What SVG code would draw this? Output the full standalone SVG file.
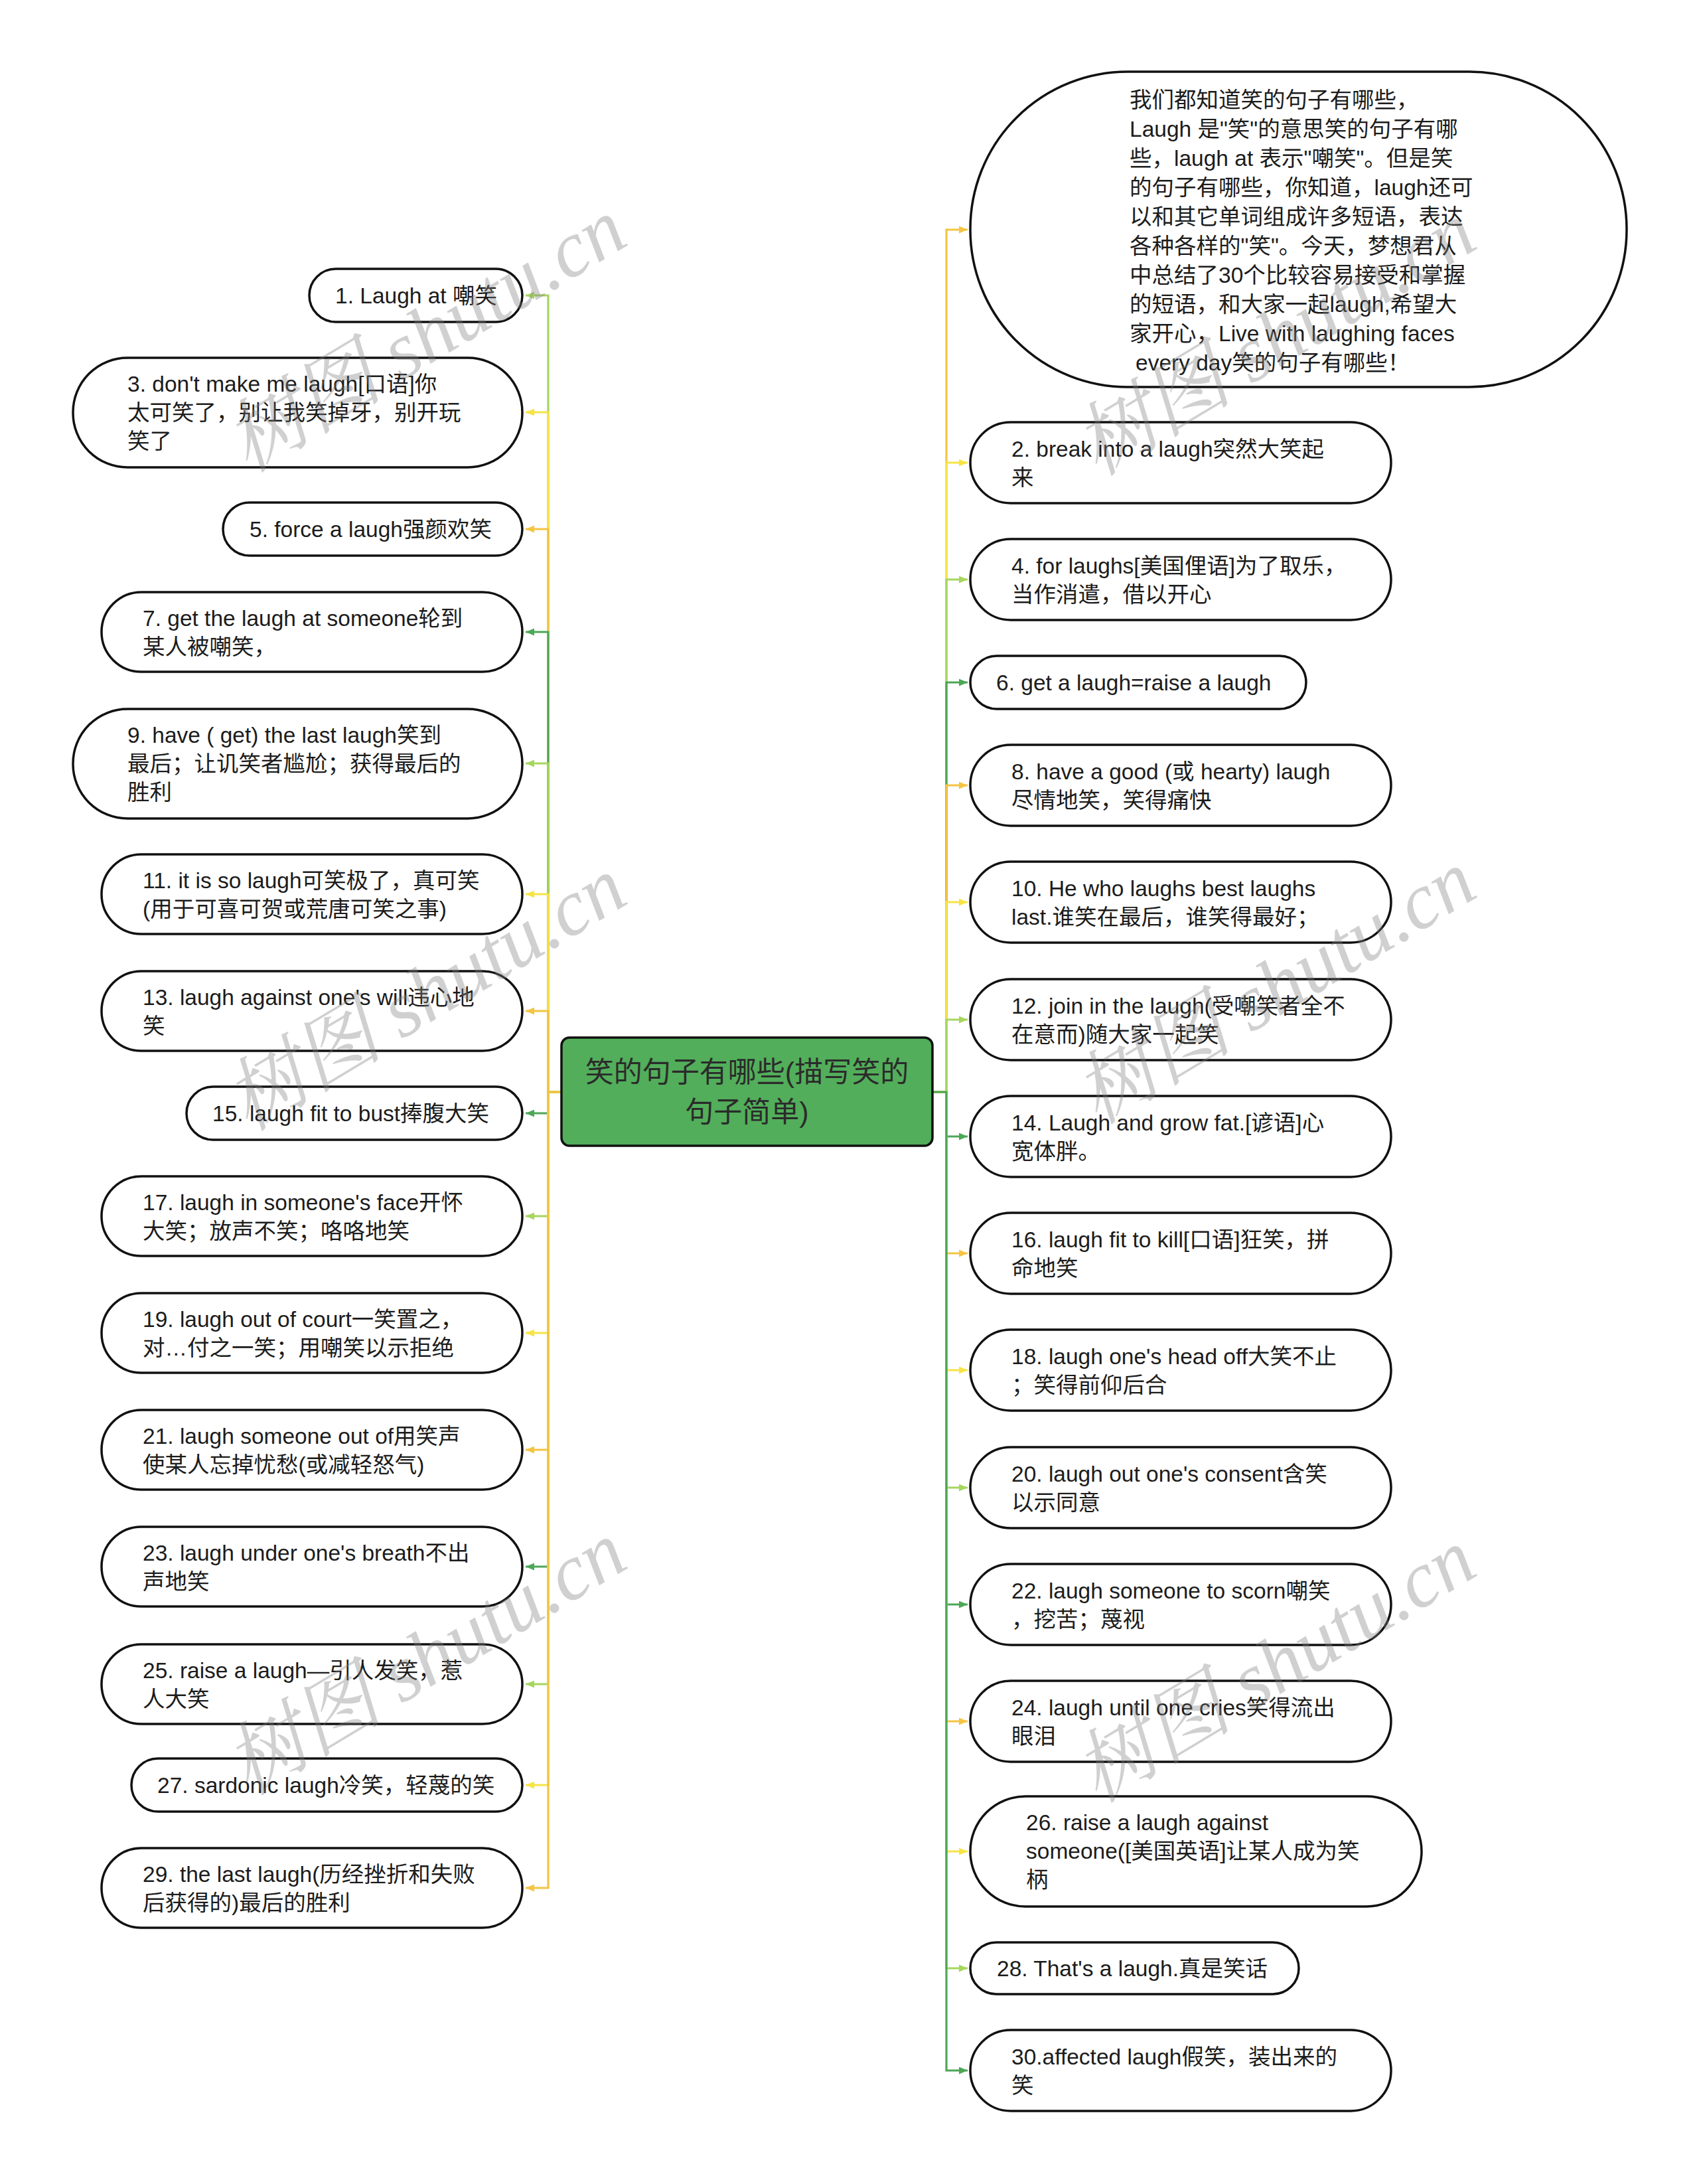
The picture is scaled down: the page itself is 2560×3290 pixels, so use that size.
<svg xmlns="http://www.w3.org/2000/svg" width="2560" height="3290" viewBox="0 0 2560 3290">
<style>
.node{fill:#ffffff;stroke:#111111;stroke-width:3.5}
.t{font-family:"Liberation Sans","Noto Sans CJK SC",sans-serif;font-size:33.5px;fill:#1c1c1c}
.root{fill:#52ae5a;stroke:#111111;stroke-width:3.5}
.rt{font-family:"Liberation Sans","Noto Sans CJK SC",sans-serif;font-size:43px;fill:#2b2b2b;text-anchor:middle}
.e{fill:none;stroke-width:3.2}
.lg{stroke:#a6d65e}.yl{stroke:#f6e445}.or{stroke:#f4c443}.dg{stroke:#4da756}
.wm{font-family:"Liberation Serif","Noto Serif CJK SC","Noto Sans CJK SC",serif;font-style:italic;font-size:120px;fill:#808080;opacity:0.36}
</style>
<defs>
<marker id="a-lg" viewBox="0 0 12 10" refX="12" refY="5" markerWidth="13" markerHeight="11" markerUnits="userSpaceOnUse" orient="auto"><path d="M0,0 L12,5 L0,10 z" fill="#a6d65e"/></marker>
<marker id="a-yl" viewBox="0 0 12 10" refX="12" refY="5" markerWidth="13" markerHeight="11" markerUnits="userSpaceOnUse" orient="auto"><path d="M0,0 L12,5 L0,10 z" fill="#f6e445"/></marker>
<marker id="a-or" viewBox="0 0 12 10" refX="12" refY="5" markerWidth="13" markerHeight="11" markerUnits="userSpaceOnUse" orient="auto"><path d="M0,0 L12,5 L0,10 z" fill="#f4c443"/></marker>
<marker id="a-dg" viewBox="0 0 12 10" refX="12" refY="5" markerWidth="13" markerHeight="11" markerUnits="userSpaceOnUse" orient="auto"><path d="M0,0 L12,5 L0,10 z" fill="#4da756"/></marker>
</defs>
<rect width="2560" height="3290" fill="#ffffff"/>

<g id="connectors">
<path class="e lg" marker-end="url(#a-lg)" d="M846,1645 H826 V445 H792"/>
<path class="e yl" marker-end="url(#a-yl)" d="M846,1645 H826 V621 H792"/>
<path class="e or" marker-end="url(#a-or)" d="M846,1645 H826 V797 H792"/>
<path class="e dg" marker-end="url(#a-dg)" d="M846,1645 H826 V952 H792"/>
<path class="e lg" marker-end="url(#a-lg)" d="M846,1645 H826 V1150 H792"/>
<path class="e yl" marker-end="url(#a-yl)" d="M846,1645 H826 V1347 H792"/>
<path class="e or" marker-end="url(#a-or)" d="M846,1645 H826 V1523 H792"/>
<path class="e dg" marker-end="url(#a-dg)" d="M846,1645 H826 V1677 H792"/>
<path class="e lg" marker-end="url(#a-lg)" d="M846,1645 H826 V1832 H792"/>
<path class="e yl" marker-end="url(#a-yl)" d="M846,1645 H826 V2008 H792"/>
<path class="e or" marker-end="url(#a-or)" d="M846,1645 H826 V2184 H792"/>
<path class="e dg" marker-end="url(#a-dg)" d="M846,1645 H826 V2360 H792"/>
<path class="e lg" marker-end="url(#a-lg)" d="M846,1645 H826 V2537 H792"/>
<path class="e yl" marker-end="url(#a-yl)" d="M846,1645 H826 V2689 H792"/>
<path class="e or" marker-end="url(#a-or)" d="M846,1645 H826 V2844 H792"/>

<path class="e or" marker-end="url(#a-or)" d="M1405,1645 H1426 V346 H1458"/>
<path class="e yl" marker-end="url(#a-yl)" d="M1405,1645 H1426 V697 H1458"/>
<path class="e lg" marker-end="url(#a-lg)" d="M1405,1645 H1426 V873 H1458"/>
<path class="e dg" marker-end="url(#a-dg)" d="M1405,1645 H1426 V1028 H1458"/>
<path class="e or" marker-end="url(#a-or)" d="M1405,1645 H1426 V1183 H1458"/>
<path class="e yl" marker-end="url(#a-yl)" d="M1405,1645 H1426 V1359 H1458"/>
<path class="e lg" marker-end="url(#a-lg)" d="M1405,1645 H1426 V1536 H1458"/>
<path class="e dg" marker-end="url(#a-dg)" d="M1405,1645 H1426 V1712 H1458"/>
<path class="e or" marker-end="url(#a-or)" d="M1405,1645 H1426 V1888 H1458"/>
<path class="e yl" marker-end="url(#a-yl)" d="M1405,1645 H1426 V2064 H1458"/>
<path class="e lg" marker-end="url(#a-lg)" d="M1405,1645 H1426 V2241 H1458"/>
<path class="e dg" marker-end="url(#a-dg)" d="M1405,1645 H1426 V2417 H1458"/>
<path class="e or" marker-end="url(#a-or)" d="M1405,1645 H1426 V2593 H1458"/>
<path class="e yl" marker-end="url(#a-yl)" d="M1405,1645 H1426 V2789 H1458"/>
<path class="e lg" marker-end="url(#a-lg)" d="M1405,1645 H1426 V2965 H1458"/>
<path class="e dg" marker-end="url(#a-dg)" d="M1405,1645 H1426 V3119 H1458"/>
</g>

<g id="root">
<rect class="root" x="846" y="1563" width="559" height="163" rx="12"/>
<text class="rt" x="1125.5" y="1630">笑的句子有哪些(描写笑的</text>
<text class="rt" x="1125.5" y="1690">句子简单)</text>
</g>

<g id="n1"><rect class="node" x="466" y="405" width="321" height="80" rx="40"/>
<text class="t" x="505" y="457">1. Laugh at 嘲笑</text></g>
<g id="n3"><rect class="node" x="110" y="539" width="677" height="165" rx="82"/>
<text class="t"><tspan x="192" y="590">3. don't make me laugh[口语]你</tspan><tspan x="192" y="633">太可笑了，别让我笑掉牙，别开玩</tspan><tspan x="192" y="676">笑了</tspan></text></g>
<g id="n5"><rect class="node" x="336" y="757" width="451" height="80" rx="40"/>
<text class="t" x="376" y="809">5. force a laugh强颜欢笑</text></g>
<g id="n7"><rect class="node" x="153" y="892" width="634" height="120" rx="60"/>
<text class="t"><tspan x="215" y="942.5">7. get the laugh at someone轮到</tspan><tspan x="215" y="985.5">某人被嘲笑，</tspan></text></g>
<g id="n9"><rect class="node" x="110" y="1068" width="677" height="165" rx="82"/>
<text class="t"><tspan x="192" y="1119">9. have ( get) the last laugh笑到</tspan><tspan x="192" y="1162">最后；让讥笑者尴尬；获得最后的</tspan><tspan x="192" y="1205">胜利</tspan></text></g>
<g id="n11"><rect class="node" x="153" y="1287" width="634" height="120" rx="60"/>
<text class="t"><tspan x="215" y="1337.5">11. it is so laugh可笑极了，真可笑</tspan><tspan x="215" y="1380.5">(用于可喜可贺或荒唐可笑之事)</tspan></text></g>
<g id="n13"><rect class="node" x="153" y="1463" width="634" height="120" rx="60"/>
<text class="t"><tspan x="215" y="1513.5">13. laugh against one's will违心地</tspan><tspan x="215" y="1556.5">笑</tspan></text></g>
<g id="n15"><rect class="node" x="281" y="1637" width="506" height="80" rx="40"/>
<text class="t" x="320" y="1689">15. laugh fit to bust捧腹大笑</text></g>
<g id="n17"><rect class="node" x="153" y="1772" width="634" height="120" rx="60"/>
<text class="t"><tspan x="215" y="1822.5">17. laugh in someone's face开怀</tspan><tspan x="215" y="1865.5">大笑；放声不笑；咯咯地笑</tspan></text></g>
<g id="n19"><rect class="node" x="153" y="1948" width="634" height="120" rx="60"/>
<text class="t"><tspan x="215" y="1998.5">19. laugh out of court一笑置之，</tspan><tspan x="215" y="2041.5">对…付之一笑；用嘲笑以示拒绝</tspan></text></g>
<g id="n21"><rect class="node" x="153" y="2124" width="634" height="120" rx="60"/>
<text class="t"><tspan x="215" y="2174.5">21. laugh someone out of用笑声</tspan><tspan x="215" y="2217.5">使某人忘掉忧愁(或减轻怒气)</tspan></text></g>
<g id="n23"><rect class="node" x="153" y="2300" width="634" height="120" rx="60"/>
<text class="t"><tspan x="215" y="2350.5">23. laugh under one's breath不出</tspan><tspan x="215" y="2393.5">声地笑</tspan></text></g>
<g id="n25"><rect class="node" x="153" y="2477" width="634" height="120" rx="60"/>
<text class="t"><tspan x="215" y="2527.5">25. raise a laugh—引人发笑，惹</tspan><tspan x="215" y="2570.5">人大笑</tspan></text></g>
<g id="n27"><rect class="node" x="198" y="2649" width="589" height="80" rx="40"/>
<text class="t" x="237" y="2701">27. sardonic laugh冷笑，轻蔑的笑</text></g>
<g id="n29"><rect class="node" x="153" y="2784" width="634" height="120" rx="60"/>
<text class="t"><tspan x="215" y="2834.5">29. the last laugh(历经挫折和失败</tspan><tspan x="215" y="2877.5">后获得的)最后的胜利</tspan></text></g>

<g id="intro"><rect class="node" x="1462" y="108" width="989" height="475" rx="237"/>
<text class="t"><tspan x="1702" y="162">我们都知道笑的句子有哪些，</tspan><tspan x="1702" y="206">Laugh 是"笑"的意思笑的句子有哪</tspan><tspan x="1702" y="250">些，laugh at 表示"嘲笑"。但是笑</tspan><tspan x="1702" y="294">的句子有哪些，你知道，laugh还可</tspan><tspan x="1702" y="338">以和其它单词组成许多短语，表达</tspan><tspan x="1702" y="382">各种各样的"笑"。今天，梦想君从</tspan><tspan x="1702" y="426">中总结了30个比较容易接受和掌握</tspan><tspan x="1702" y="470">的短语，和大家一起laugh,希望大</tspan><tspan x="1702" y="514">家开心，Live with laughing faces</tspan><tspan x="1711" y="558">every day笑的句子有哪些！</tspan></text></g>
<g id="n2"><rect class="node" x="1462" y="636" width="634" height="122" rx="61"/>
<text class="t"><tspan x="1524" y="687.5">2. break into a laugh突然大笑起</tspan><tspan x="1524" y="730.5">来</tspan></text></g>
<g id="n4"><rect class="node" x="1462" y="812" width="634" height="122" rx="61"/>
<text class="t"><tspan x="1524" y="863.5">4. for laughs[美国俚语]为了取乐，</tspan><tspan x="1524" y="906.5">当作消遣，借以开心</tspan></text></g>
<g id="n6"><rect class="node" x="1462" y="988" width="506" height="80" rx="40"/>
<text class="t" x="1501" y="1040">6. get a laugh=raise a laugh</text></g>
<g id="n8"><rect class="node" x="1462" y="1122" width="634" height="122" rx="61"/>
<text class="t"><tspan x="1524" y="1173.5">8. have a good (或 hearty) laugh</tspan><tspan x="1524" y="1216.5">尽情地笑，笑得痛快</tspan></text></g>
<g id="n10"><rect class="node" x="1462" y="1298" width="634" height="122" rx="61"/>
<text class="t"><tspan x="1524" y="1349.5">10. He who laughs best laughs</tspan><tspan x="1524" y="1392.5">last.谁笑在最后，谁笑得最好；</tspan></text></g>
<g id="n12"><rect class="node" x="1462" y="1475" width="634" height="122" rx="61"/>
<text class="t"><tspan x="1524" y="1526.5">12. join in the laugh(受嘲笑者全不</tspan><tspan x="1524" y="1569.5">在意而)随大家一起笑</tspan></text></g>
<g id="n14"><rect class="node" x="1462" y="1651" width="634" height="122" rx="61"/>
<text class="t"><tspan x="1524" y="1702.5">14. Laugh and grow fat.[谚语]心</tspan><tspan x="1524" y="1745.5">宽体胖。</tspan></text></g>
<g id="n16"><rect class="node" x="1462" y="1827" width="634" height="122" rx="61"/>
<text class="t"><tspan x="1524" y="1878.5">16. laugh fit to kill[口语]狂笑，拼</tspan><tspan x="1524" y="1921.5">命地笑</tspan></text></g>
<g id="n18"><rect class="node" x="1462" y="2003" width="634" height="122" rx="61"/>
<text class="t"><tspan x="1524" y="2054.5">18. laugh one's head off大笑不止</tspan><tspan x="1524" y="2097.5">；笑得前仰后合</tspan></text></g>
<g id="n20"><rect class="node" x="1462" y="2180" width="634" height="122" rx="61"/>
<text class="t"><tspan x="1524" y="2231.5">20. laugh out one's consent含笑</tspan><tspan x="1524" y="2274.5">以示同意</tspan></text></g>
<g id="n22"><rect class="node" x="1462" y="2356" width="634" height="122" rx="61"/>
<text class="t"><tspan x="1524" y="2407.5">22. laugh someone to scorn嘲笑</tspan><tspan x="1524" y="2450.5">，挖苦；蔑视</tspan></text></g>
<g id="n24"><rect class="node" x="1462" y="2532" width="634" height="122" rx="61"/>
<text class="t"><tspan x="1524" y="2583.5">24. laugh until one cries笑得流出</tspan><tspan x="1524" y="2626.5">眼泪</tspan></text></g>
<g id="n26"><rect class="node" x="1462" y="2706" width="680" height="166" rx="83"/>
<text class="t"><tspan x="1546" y="2757">26. raise a laugh against</tspan><tspan x="1546" y="2800">someone([美国英语]让某人成为笑</tspan><tspan x="1546" y="2843">柄</tspan></text></g>
<g id="n28"><rect class="node" x="1462" y="2926" width="495" height="78" rx="39"/>
<text class="t" x="1502" y="2977">28. That's a laugh.真是笑话</text></g>
<g id="n30"><rect class="node" x="1462" y="3058" width="634" height="122" rx="61"/>
<text class="t"><tspan x="1524" y="3109.5">30.affected laugh假笑，装出来的</tspan><tspan x="1524" y="3152.5">笑</tspan></text></g>

<g id="watermarks">
<text class="wm" text-anchor="middle" transform="translate(662,540) rotate(-31)">树图 shutu.cn</text>
<text class="wm" text-anchor="middle" transform="translate(1942,545) rotate(-31)">树图 shutu.cn</text>
<text class="wm" text-anchor="middle" transform="translate(662,1532) rotate(-31)">树图 shutu.cn</text>
<text class="wm" text-anchor="middle" transform="translate(1942,1522) rotate(-31)">树图 shutu.cn</text>
<text class="wm" text-anchor="middle" transform="translate(662,2533) rotate(-31)">树图 shutu.cn</text>
<text class="wm" text-anchor="middle" transform="translate(1942,2544) rotate(-31)">树图 shutu.cn</text>
</g>
</svg>
